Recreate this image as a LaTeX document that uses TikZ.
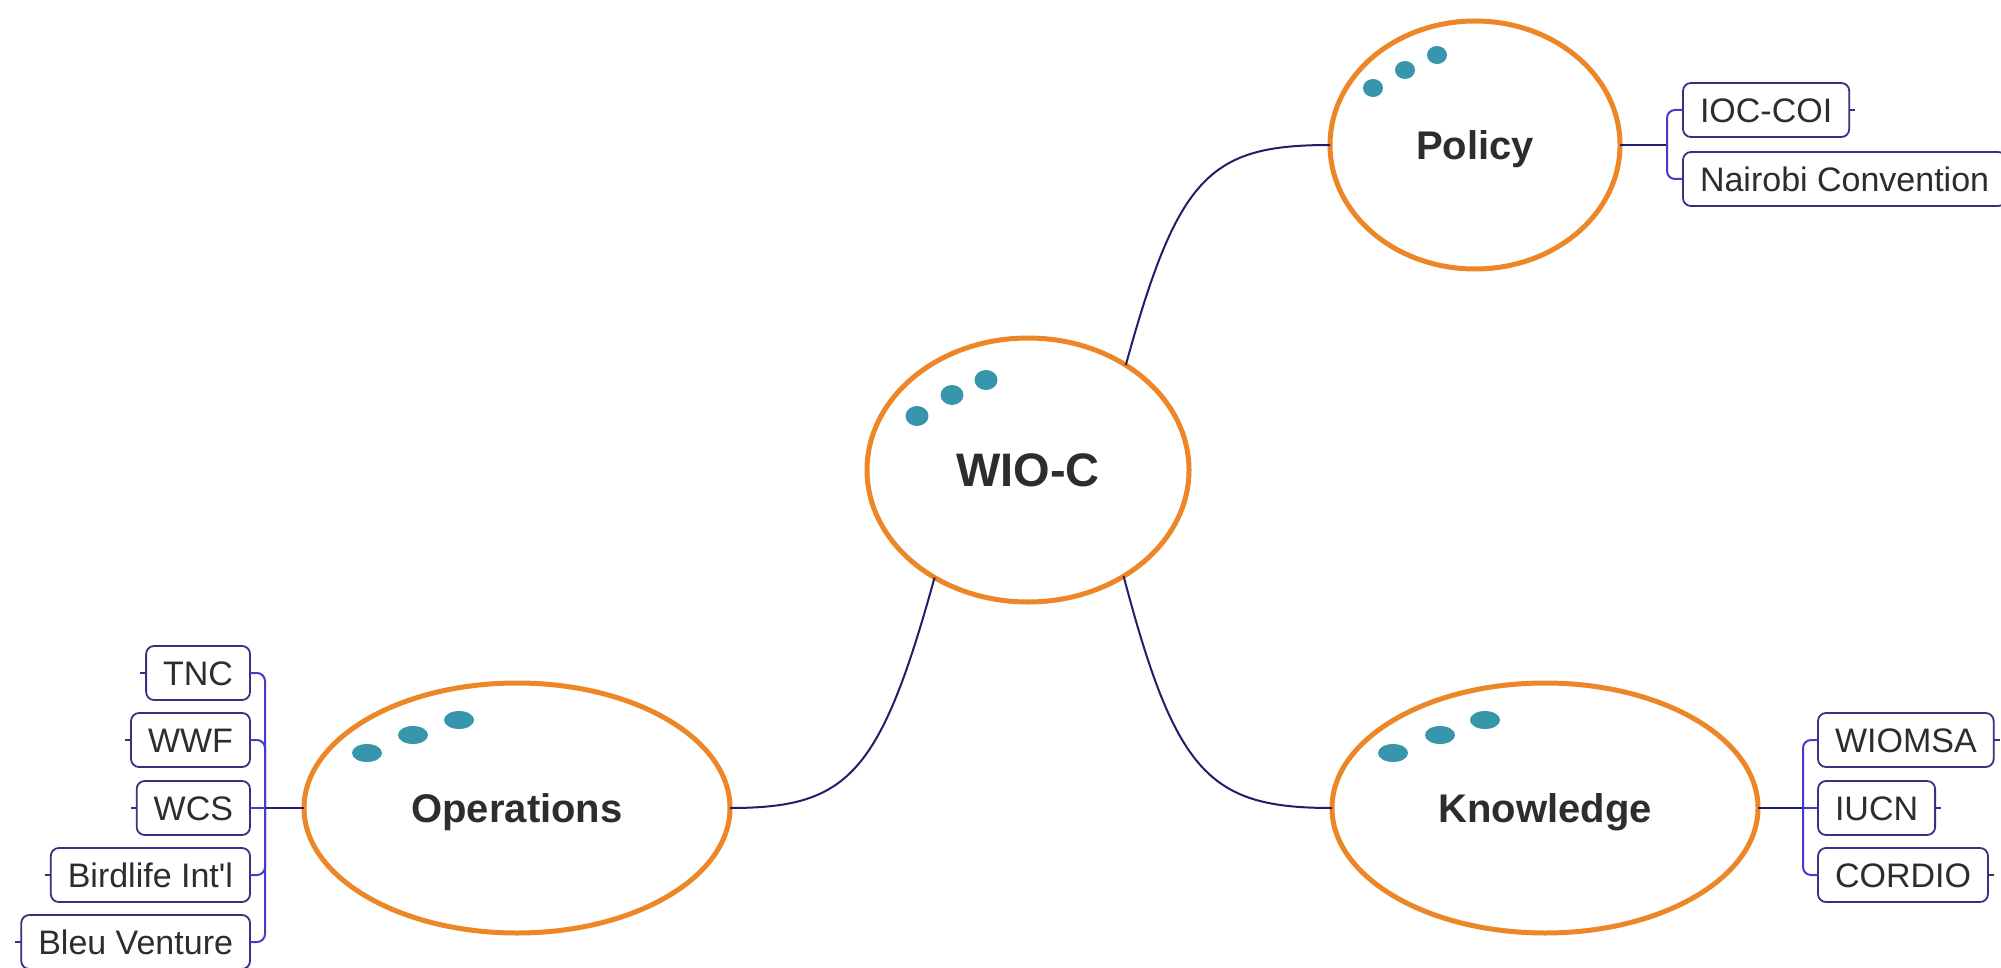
\documentclass[tikz,border=0pt]{standalone}
\usepackage{fontspec}
\setmainfont{Liberation Sans}[Ligatures=TeXOff]
\usetikzlibrary{shapes.geometric}
\definecolor{orng}{RGB}{236,134,38}
\definecolor{dotc}{RGB}{55,150,172}
\definecolor{navy}{RGB}{35,30,105}
\definecolor{brk}{RGB}{70,60,200}
\definecolor{boxc}{RGB}{55,50,125}
\definecolor{txt}{RGB}{45,45,45}
\begin{document}
\begin{tikzpicture}[x=0.5pt,y=-0.5pt,
  hub/.style={ellipse, draw=orng, line width=2.5pt, fill=white, inner sep=0pt, outer sep=0pt,
    text=txt, font=\bfseries\fontsize{20}{24}\selectfont, text height=14.3pt, text depth=0pt},
  leaf/.style={draw=boxc, line width=0.9pt, rounded corners=4pt, minimum height=27pt,
    inner xsep=8.5pt, inner ysep=0pt, outer sep=0pt, text=txt, font=\fontsize{17}{20}\selectfont,
    text height=12.2pt, text depth=0pt},
  dotbig/.style={ellipse, fill=dotc, inner sep=0pt, minimum width=15pt, minimum height=9pt},
  link/.style={draw=navy, line width=1pt},
  brace/.style={draw=brk, line width=1pt, rounded corners=4pt},
  tick/.style={draw=boxc, line width=0.8pt}
]
\useasboundingbox[fill=white] (0,0) rectangle (2001,968);

% hubs
\node[hub, minimum width=161pt, minimum height=132pt,
      font=\bfseries\fontsize{23.5}{28}\selectfont, text height=16.8pt] (wio) at (1028,470) {WIO-C};
\node[hub, minimum width=145pt, minimum height=124pt] (pol) at (1475,145) {Policy};
\node[hub, minimum width=213pt, minimum height=125pt] (ops) at (517,808) {Operations};
\node[hub, minimum width=213pt, minimum height=125pt] (kno) at (1545,808) {Knowledge};

% dots
\node[dotbig, minimum width=11.5pt, minimum height=10pt] (w1) at (917,416) {};
\node[dotbig, minimum width=11.5pt, minimum height=10pt] (w2) at (952,395) {};
\node[dotbig, minimum width=11.5pt, minimum height=10pt] (w3) at (986,380) {};
\node[dotbig, minimum width=10pt, minimum height=9pt] (p1) at (1373,88) {};
\node[dotbig, minimum width=10pt, minimum height=9pt] (p2) at (1405,70) {};
\node[dotbig, minimum width=10pt, minimum height=9pt] (p3) at (1437,55) {};
\node[dotbig] (k1) at (1393,753) {};
\node[dotbig] (k2) at (1440,735) {};
\node[dotbig] (k3) at (1485,720) {};
\node[dotbig] (o1) at (367,753) {};
\node[dotbig] (o2) at (413,735) {};
\node[dotbig] (o3) at (459,720) {};

% hub connectors
\draw[link] (wio.47) .. controls (1178,175) and (1210,145) .. (pol.west);
\draw[link] (wio.229) .. controls (880,775) and (848,808) .. (ops.east);
\draw[link] (wio.312) .. controls (1176,775) and (1210,808) .. (kno.west);

% policy leaves
\node[leaf, anchor=west] (ioc) at (1683,110) {IOC-COI};
\node[leaf, anchor=west] (nai) at (1683,179) {Nairobi Convention};
\coordinate (bp) at (1667,145);
\draw[link] (pol.east) -- (bp);
\draw[brace] (ioc.west) -| (bp) |- (nai.west);
\draw[tick] (ioc.east) -- ++(6,0);

% knowledge leaves
\node[leaf, anchor=west] (wiomsa) at (1818,740) {WIOMSA};
\node[leaf, anchor=west] (iucn) at (1818,808) {IUCN};
\node[leaf, anchor=west] (cordio) at (1818,875) {CORDIO};
\coordinate (bk) at (1803,808);
\draw[link] (kno.east) -- (bk);
\draw[brace] (wiomsa.west) -| (bk) |- (cordio.west);
\draw[brace] (iucn.west) -- (bk);
\draw[tick] (wiomsa.east) -- ++(6,0);
\draw[tick] (iucn.east) -- ++(6,0);
\draw[tick] (cordio.east) -- ++(6,0);

% operations leaves
\node[leaf, anchor=east] (tnc) at (250,673) {TNC};
\node[leaf, anchor=east] (wwf) at (250,740) {WWF};
\node[leaf, anchor=east] (wcs) at (250,808) {WCS};
\node[leaf, anchor=east] (bird) at (250,875) {Birdlife Int'l};
\node[leaf, anchor=east] (bleu) at (250,942) {Bleu Venture};
\coordinate (bo) at (265,808);
\draw[link] (ops.west) -- (bo);
\draw[brace] (tnc.east) -| (bo) |- (bleu.east);
\draw[brace] (wwf.east) -| (bo);
\draw[brace] (bird.east) -| (bo);
\draw[brace] (wcs.east) -- (bo);
\draw[tick] (tnc.west) -- ++(-6,0);
\draw[tick] (wwf.west) -- ++(-6,0);
\draw[tick] (wcs.west) -- ++(-6,0);
\draw[tick] (bird.west) -- ++(-6,0);
\draw[tick] (bleu.west) -- ++(-6,0);
\end{tikzpicture}
\end{document}
